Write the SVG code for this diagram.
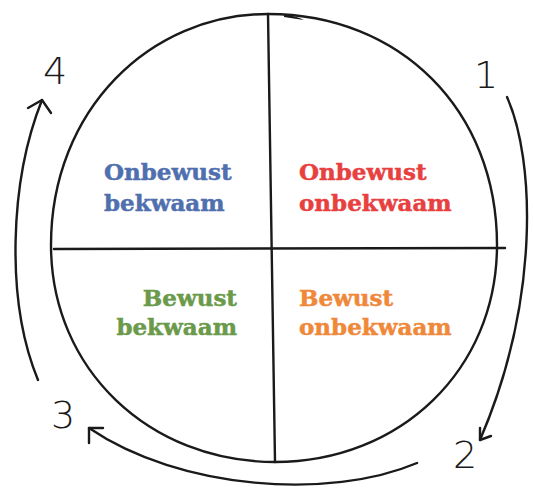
<svg xmlns="http://www.w3.org/2000/svg" width="533" height="497" viewBox="0 0 533 497">
<defs>
<style>
.ln{fill:none;stroke:#1a1a1a;stroke-width:2.4;stroke-linecap:round;stroke-linejoin:round}
.lb{font-family:"DejaVu Serif","Liberation Serif",serif;font-weight:bold;font-size:23px;stroke-width:0.5}
.num{font-family:"DejaVu Sans","Liberation Sans",sans-serif;font-weight:200;font-size:38px;fill:#1a1a1a}
</style>
</defs>
<rect width="533" height="497" fill="#ffffff"/>
<g id="circle">
<path class="ln" d="M268 14 C 150 14 51 110 51 245 C 51 370 150 462 275 462 C 400 462 497 370 497 245 C 497 110 400 14 268 14"/>
<path d="M284 15 C 292 15 298 17 304 20 C 297 19 290 18 284 17 Z" fill="#1a1a1a"/>
<line class="ln" x1="268" y1="14" x2="275" y2="462"/>
<line class="ln" x1="54" y1="249" x2="505" y2="248"/>
</g>
<g id="q1">
<text class="lb" x="104" y="180" fill="#4f6fae" stroke="#4f6fae">Onbewust</text>
<text class="lb" x="104" y="211" fill="#4f6fae" stroke="#4f6fae">bekwaam</text>
</g>
<g id="q2">
<text class="lb" x="299" y="180" fill="#e8403f" stroke="#e8403f">Onbewust</text>
<text class="lb" x="299" y="211" fill="#e8403f" stroke="#e8403f">onbekwaam</text>
</g>
<g id="q3">
<text class="lb" x="237" y="306" fill="#6a9a4a" stroke="#6a9a4a" text-anchor="end">Bewust</text>
<text class="lb" x="237" y="335" fill="#6a9a4a" stroke="#6a9a4a" text-anchor="end">bekwaam</text>
</g>
<g id="q4">
<text class="lb" x="299" y="306" fill="#f0883a" stroke="#f0883a">Bewust</text>
<text class="lb" x="299" y="335" fill="#f0883a" stroke="#f0883a">onbekwaam</text>
</g>
<g id="connectors">
<path class="ln" d="M507 97 C 535 160 540 300 480 440"/>
<path class="ln" d="M480 428 L 480 440 L 491 436"/>
<path class="ln" d="M417 463 C 330 500 180 490 89 428"/>
<path class="ln" d="M89 443 L 89 428 L 103 428"/>
<path class="ln" d="M38 380 C 5 300 10 180 42 100"/>
<path class="ln" d="M28 108 L 42 100 L 51 113"/>
</g>
<g id="labels">
<text class="num" x="43" y="84">4</text>
<text class="num" x="474" y="88">1</text>
<text class="num" x="453" y="468">2</text>
<text class="num" x="51" y="428">3</text>
</g>
</svg>
